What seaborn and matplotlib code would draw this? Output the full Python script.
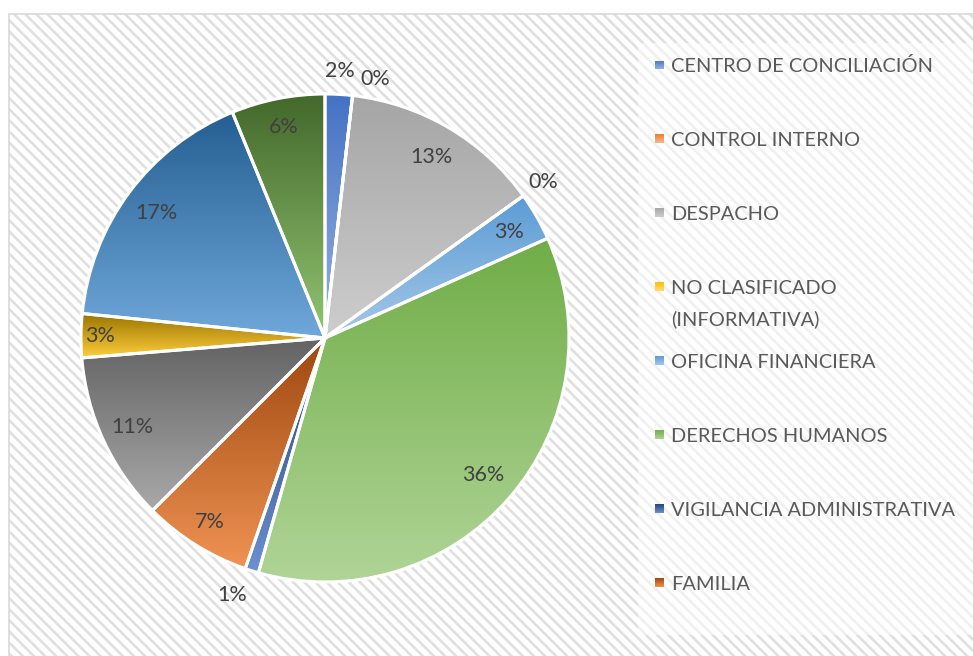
import colorsys
import numpy as np
import matplotlib
matplotlib.use("Agg")
import matplotlib.pyplot as plt
import seaborn as sns
from matplotlib.patches import Rectangle
from matplotlib.colors import to_rgb

# ---------------- data ----------------
categories = ["CENTRO DE CONCILIACIÓN", "CONTROL INTERNO", "DESPACHO",
              "NO CLASIFICADO\n(INFORMATIVA)", "OFICINA FINANCIERA",
              "DERECHOS HUMANOS", "VIGILANCIA ADMINISTRATIVA", "FAMILIA",
              None, None, None, None]          # last four not visible in the legend
shares = [1.8, 0.0, 13.3, 0.0, 3.2, 36.1, 0.9, 7.2, 11.2, 2.9, 17.2, 6.2]
colors = ["#4472C4", "#ED7D31", "#A5A5A5", "#FFC000", "#5B9BD5", "#70AD47",
          "#264478", "#9E480E", "#636363", "#997300", "#255E91", "#43682B"]

# ---------------- label layout (style) ----------------
label_radius = [1.095, 1.08, 0.86, 1.10, 0.87, 0.86, 1.12, 0.89, 0.87, 0.92, 0.86, 0.88]
label_nudge = [0, 4.5, 0, 0, 0, 0, 2.5, 0, 0, 0, 0, 0]   # clockwise degrees

W, H = 973, 656
sns.set_theme(style="white")
plt.rcParams["font.family"] = ["Lato", "DejaVu Sans"]
plt.rcParams["hatch.linewidth"] = 1.9

fig = plt.figure(figsize=(W / 100, H / 100), dpi=100)
fig.patch.set_facecolor("white")
ax = fig.add_axes([0, 0, 1, 1])
ax.set_axis_off()


def lighten(c, f=0.45):
    h, l, s = colorsys.rgb_to_hls(*to_rgb(c))
    return np.array(colorsys.hls_to_rgb(h, l + (1 - l) * f, s))


def gradient_fill(patch, color, zorder):
    ext = patch.get_path().get_extents(patch.get_patch_transform())
    x0, y0, x1, y1 = ext.x0, ext.y0, ext.x1, ext.y1
    t = np.linspace(0, 1, 256)[:, None, None]
    base = np.array(to_rgb(color))
    img = lighten(color) * (1 - t) + base * t
    im = ax.imshow(img, extent=[x0, x1, y0, y1], origin="lower", aspect="auto",
                   interpolation="bilinear", zorder=zorder)
    im.set_clip_path(patch)
    return im


# background: hatched chart area with light border
bg = Rectangle((9, -10), W + 20, (H - 14) + 10, facecolor="white",
               edgecolor="#E0E0E0", hatch="\\\\\\", linewidth=0, zorder=0)
ax.add_patch(bg)
border = Rectangle((9, -10), W + 20, (H - 14) + 10, facecolor="none",
                   edgecolor="#D9D9D9", linewidth=1.2, zorder=0.5)
ax.add_patch(border)

# legend background box
ax.add_patch(Rectangle((638, H - 635), 400, 635 - 43, facecolor="white",
                       alpha=0.55, edgecolor="none", zorder=0.6))

# pie
cx, cy, R = 325, H - 338, 244
wedges, texts, autotexts = ax.pie(
    shares, colors=colors, startangle=90, counterclock=False,
    center=(cx, cy), radius=R, autopct="%.0f%%", frame=True,
    wedgeprops=dict(edgecolor="white", linewidth=2.2),
    textprops=dict(color="#404040", fontsize=15.5))

for w, col in zip(wedges, colors):
    w.set_facecolor("none")
    w.set_zorder(3)
    gradient_fill(w, col, 2)

for w, at, rf, nd in zip(wedges, autotexts, label_radius, label_nudge):
    mid = np.deg2rad((w.theta1 + w.theta2) / 2 - nd)
    at.set_position((cx + rf * R * np.cos(mid), cy + rf * R * np.sin(mid)))
    at.set_ha("center")
    at.set_va("center")
    at.set_zorder(4)

# legend (Excel style: evenly spaced markers, text wraps below)
leg_top, leg_step, line_step = 65, 73.9, 31
k = 0
for name, col in zip(categories, colors):
    if name is None:
        continue
    y = H - (leg_top + leg_step * k)
    sq = Rectangle((655, y - 4.5), 9, 9, facecolor="none", edgecolor="none", zorder=3)
    ax.add_patch(sq)
    gradient_fill(sq, col, 2)
    for j, line in enumerate(name.split("\n")):
        ax.text(671, y - 7.5 - j * line_step, line, ha="left", va="baseline",
                fontsize=14.4, color="#595959", zorder=4)
    k += 1

ax.set_xlim(0, W)
ax.set_ylim(0, H)
fig.savefig("out.png", dpi=100)
